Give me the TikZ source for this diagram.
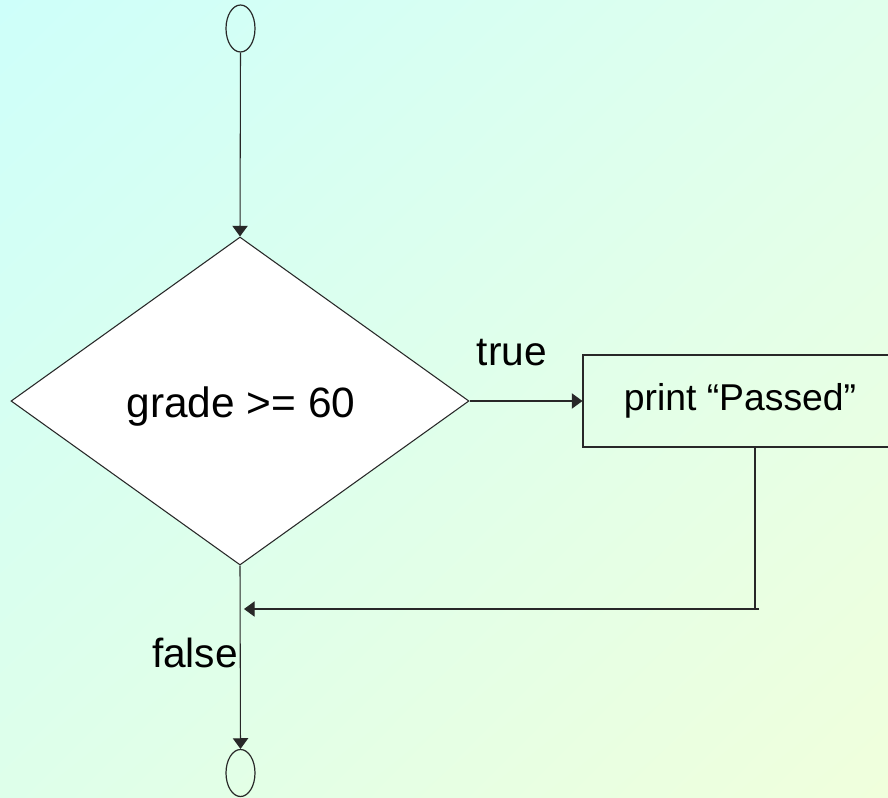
\documentclass[tikz,border=0pt]{standalone}
\usepackage{fontspec}
\setmainfont{Liberation Sans}
\usetikzlibrary{shapes.geometric,arrows.meta,shadings}
\definecolor{bgUL}{RGB}{206,255,250}
\definecolor{bgUR}{RGB}{224,255,236}
\definecolor{bgLL}{RGB}{222,255,234}
\definecolor{bgLR}{RGB}{240,255,220}
\definecolor{linec}{RGB}{40,40,40}
\tikzset{
  conn/.style={draw=linec, line width=0.8pt},
  arr/.style={conn, -{Triangle[length=8pt,width=11.5pt]}},
  term/.style={ellipse, draw=linec, line width=0.9pt, inner sep=0pt, minimum width=21.75pt, minimum height=35.25pt},
  decide/.style={diamond, draw=linec, line width=0.8pt, fill=white, inner sep=0pt, minimum width=343.5pt, minimum height=246pt},
  act/.style={rectangle, draw=linec, line width=0.8pt, inner sep=0pt, minimum width=235.5pt, minimum height=69pt, font=\fontsize{28}{32}\selectfont},
  lbl/.style={anchor=base, inner sep=0pt, font=\fontsize{30.5}{36}\selectfont}
}
\begin{document}
\begin{tikzpicture}[x=0.75pt,y=-0.75pt]
\useasboundingbox (0,0) rectangle (888,797);
\clip (0,0) rectangle (888,797);
\shade[upper left=bgUL, upper right=bgUR, lower left=bgLL, lower right=bgLR] (0,0) rectangle (888,797);
\node[term] (start) at (240.5,28.5) {};
\node[decide] (cond) at (240,401) {};
\node[lbl, font=\fontsize{31.8}{36}\selectfont] (condtext) at (241,417) {grade >= 60};
\node[act] (pass) at (740,401) {print “Passed”};
\node[term] (stop) at (240.5,773) {};
\node[lbl] (truelbl) at (512,365) {true};
\node[lbl] (falselbl) at (195,667) {false};
\coordinate (drop) at (755,609);
\coordinate (dropend) at (759,609);
\coordinate (merge) at (244,609);
\draw[arr] (start.south) -- (cond.north);
\draw[arr] (cond.east) -- (pass.west);
\draw[conn] (pass.south -| drop) -- (drop);
\draw[arr] (dropend) -- (merge);
\draw[arr] (cond.south) -- (stop.north);
\end{tikzpicture}
\end{document}
